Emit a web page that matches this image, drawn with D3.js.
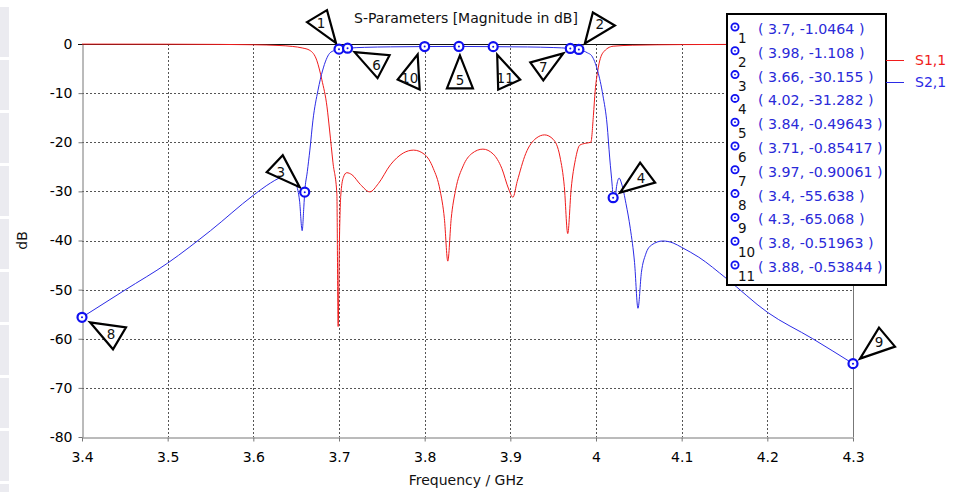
<!DOCTYPE html>
<html>
<head>
<meta charset="utf-8">
<script src="https://cdn.jsdelivr.net/npm/d3@7"></script>
<style>
  html, body { margin: 0; padding: 0; background: #fff; }
  svg { display: block; }
  text { font-family: "DejaVu Sans", Verdana, sans-serif; }
</style>
</head>
<body>
<svg id="chart" width="961" height="492"></svg>
<script>
// ---- data ----------------------------------------------------------------
const freqTicks = [3.4, 3.5, 3.6, 3.7, 3.8, 3.9, 4.0, 4.1, 4.2, 4.3];
const dbTicks = [0, -10, -20, -30, -40, -50, -60, -70, -80];

const seriesNames = ["S1,1", "S2,1"];

// S1,1 (reflection), frequency in GHz and magnitude in dB
const s11Freq = [3.40, 3.50, 3.56, 3.60, 3.63, 3.646, 3.657, 3.666, 3.674, 3.68,
  3.686, 3.689, 3.693, 3.6975, 3.699, 3.7005, 3.702, 3.705, 3.709, 3.715,
  3.725, 3.736, 3.746, 3.76, 3.775, 3.787, 3.80, 3.81, 3.818, 3.823,
  3.827, 3.831, 3.836, 3.845, 3.855, 3.868, 3.88, 3.89, 3.898, 3.903,
  3.908, 3.918, 3.93, 3.94, 3.95, 3.958, 3.963, 3.967, 3.971, 3.976,
  3.981, 3.988, 3.994, 3.997, 3.999, 4.002, 4.008, 4.02, 4.043, 4.10,
  4.20, 4.30];
const s11Db = [-0.02, -0.04, -0.08, -0.15, -0.3, -0.5, -0.8, -1.3, -3.3, -7.3,
  -12.8, -17.5, -24.2, -30.5, -57.5, -40, -31, -27.2, -26.2, -26.6,
  -28.6, -30.1, -28.4, -24.6, -22.2, -21.6, -22.5, -25.3, -29.8, -35.5,
  -44.2, -35.5, -29.8, -24.8, -22.3, -21.4, -22.4, -25.3, -29.5, -31.2,
  -28.0, -22.3, -19.2, -18.5, -19.4, -23.0, -29.0, -38.6, -29.5, -23.5,
  -20.6, -20.2, -20.0, -14.5, -9.6, -5.5, -1.8, -0.45, -0.25, -0.12,
  -0.06, -0.04];

// S2,1 (transmission)
const s21Freq = [3.40, 3.45, 3.50, 3.55, 3.60, 3.62, 3.63, 3.64, 3.645, 3.65,
  3.654, 3.657, 3.659, 3.66, 3.663, 3.666, 3.6696, 3.6755, 3.681, 3.685,
  3.689, 3.695, 3.70, 3.71, 3.73, 3.76, 3.80, 3.84, 3.88, 3.92,
  3.95, 3.97, 3.98, 3.99, 3.995, 4.002, 4.008, 4.013, 4.016, 4.019,
  4.02, 4.022, 4.024, 4.027, 4.03, 4.035, 4.04, 4.045, 4.049, 4.053,
  4.058, 4.065, 4.078, 4.09, 4.10, 4.12, 4.152, 4.20, 4.253, 4.30];
const s21Db = [-55.638, -50.1, -44.6, -38.0, -30.8, -28.3, -27.3, -26.7, -27.0, -28.5,
  -32.0, -38.0, -33.0, -30.155, -26.0, -21.6, -15.5, -9.4, -5.3, -3.2,
  -1.9, -1.3, -1.0464, -0.85417, -0.68, -0.58, -0.51963, -0.49643, -0.53844, -0.6,
  -0.72, -0.90061, -1.108, -1.8, -2.4, -5.5, -10.4, -16.5, -23.2, -29.0,
  -31.282, -31.8, -29.0, -27.3, -28.5, -32.5, -37.5, -44.5, -53.8, -46.5,
  -42.8, -40.9, -40.1, -40.5, -41.4, -43.4, -47.7, -54.6, -60.0, -65.068];

// markers placed on S2,1
const markerIds = [1, 2, 3, 4, 5, 6, 7, 8, 9, 10, 11];
const markerFreq = [3.7, 3.98, 3.66, 4.02, 3.84, 3.71, 3.97, 3.4, 4.3, 3.8, 3.88];
const markerDb = [-1.0464, -1.108, -30.155, -31.282, -0.49643, -0.85417, -0.90061, -55.638, -65.068, -0.51963, -0.53844];

// ---- layout --------------------------------------------------------------
const plot = { left: 82, right: 853, top: 44, bottom: 437 };
const RED = "#f01c1c", BLUE = "#2b2be6", MARK = "#1010f0", TEXTBLUE = "#2a2ad8";
const FONT = 14;

// callout triangles, as pixel offsets from the marker (vertices, then number position)
const callouts = {
  1: { v: [[-32, -27], [-12, -39], [-3, -6]], t: [-18, -26] },
  2: { v: [[14, -37], [36, -24], [6, -6]], t: [21, -25] },
  3: { v: [[-22, -37], [-38, -20], [-5, -5]], t: [-24, -20] },
  4: { v: [[27, -35], [42, -15], [7, -5]], t: [28, -20] },
  5: { v: [[1, 9], [-12, 42], [14, 42]], t: [1, 34] },
  6: { v: [[7, 4], [42, 7], [30, 30]], t: [29, 17] },
  7: { v: [[-7, 5], [-40, 14], [-27, 32]], t: [-27, 19] },
  8: { v: [[8, 5], [44, 10], [31, 32]], t: [29, 17] },
  9: { v: [[26, -36], [42, -17], [7, -5]], t: [26, -22] },
  10: { v: [[-7, 8], [-27, 33], [-5, 43]], t: [-15, 31] },
  11: { v: [[4, 8], [27, 33], [5, 43]], t: [12, 31] }
};

const svg = d3.select("#chart");

// side strip of panel tabs along the left window edge
const strip = svg.append("g");
for (let i = 0; i < 10; i++) {
  strip.append("rect").attr("x", 0).attr("y", 7 + i * 53).attr("width", 9).attr("height", 50)
    .attr("fill", "#ebebf0");
}

const x = d3.scaleLinear().domain([3.4, 4.3]).range([plot.left, plot.right]);
const y = d3.scaleLinear().domain([-80, 0]).range([plot.bottom, plot.top]);

// grid
const grid = svg.append("g").attr("stroke", "#555").attr("stroke-width", 1)
  .attr("stroke-dasharray", "2,2");
grid.selectAll(".gv").data(freqTicks.slice(1, -1)).join("line")
  .attr("x1", d => Math.round(x(d)) + 0.5).attr("x2", d => Math.round(x(d)) + 0.5)
  .attr("y1", plot.top).attr("y2", plot.bottom);
grid.selectAll(".gh").data(dbTicks.slice(1, -1)).join("line")
  .attr("y1", d => Math.round(y(d)) + 0.5).attr("y2", d => Math.round(y(d)) + 0.5)
  .attr("x1", plot.left).attr("x2", plot.right);

// axes
const fmt = d => String(+d.toFixed(1));
const xAxis = svg.append("g").attr("transform", `translate(0,${plot.bottom + 0.5})`)
  .call(d3.axisBottom(x).tickValues(freqTicks).tickFormat(fmt).tickSize(4).tickSizeOuter(0).tickPadding(11));
const yAxis = svg.append("g").attr("transform", `translate(${plot.left + 0.5},0)`)
  .call(d3.axisLeft(y).tickValues(dbTicks).tickFormat(fmt).tickSize(4).tickSizeOuter(0).tickPadding(6));
[xAxis, yAxis].forEach(a => {
  a.select(".domain").attr("stroke", "#777");
  a.selectAll(".tick line").attr("stroke", "#777");
  a.selectAll("text").attr("fill", "#000").style("font-size", FONT + "px")
    .style("font-family", "'DejaVu Sans', Verdana, sans-serif");
});

// right and top frame
svg.append("line").attr("x1", Math.round(x(4.3)) + 0.5).attr("x2", Math.round(x(4.3)) + 0.5)
  .attr("y1", plot.top).attr("y2", plot.bottom).attr("stroke", "#777");
svg.append("line").attr("x1", plot.left - 4).attr("x2", plot.right)
  .attr("y1", y(0) + 0.5).attr("y2", y(0) + 0.5).attr("stroke", "#111");

// curves
const line = d3.line().x(d => x(d[0])).y(d => y(d[1])).curve(d3.curveMonotoneX);
const s11 = s11Freq.map((f, i) => [f, s11Db[i]]);
const s21 = s21Freq.map((f, i) => [f, s21Db[i]]);
svg.append("path").datum(s11).attr("d", line).attr("fill", "none")
  .attr("stroke", RED).attr("stroke-width", 1);
svg.append("path").datum(s21).attr("d", line).attr("fill", "none")
  .attr("stroke", BLUE).attr("stroke-width", 1);

// titles
svg.append("text").attr("x", 466).attr("y", 18).attr("text-anchor", "middle")
  .attr("dominant-baseline", "central").style("font-size", FONT + "px").attr("fill", "#111")
  .text("S-Parameters [Magnitude in dB]");
svg.append("text").attr("x", 466).attr("y", 480).attr("text-anchor", "middle")
  .attr("dominant-baseline", "central").style("font-size", FONT + "px").attr("fill", "#111")
  .text("Frequency / GHz");
svg.append("text").attr("transform", `translate(22,${(plot.top + plot.bottom) / 2}) rotate(-90)`)
  .attr("text-anchor", "middle").attr("dominant-baseline", "central")
  .style("font-size", FONT + "px").attr("fill", "#111").text("dB");

// markers
const markers = markerIds.map((id, i) => ({ id, f: markerFreq[i], v: markerDb[i] }));
const mg = svg.append("g");
markers.forEach(m => {
  const px = x(m.f), py = y(m.v), c = callouts[m.id];
  mg.append("polygon")
    .attr("points", c.v.map(p => [px + p[0], py + p[1]].join(",")).join(" "))
    .attr("fill", "#fff").attr("stroke", "#000").attr("stroke-width", 2.2)
    .attr("stroke-linejoin", "miter");
  mg.append("text").attr("x", px + c.t[0]).attr("y", py + c.t[1])
    .attr("text-anchor", "middle").attr("dominant-baseline", "central")
    .style("font-size", "13.5px").attr("fill", "#111").text(m.id);
});
markers.forEach(m => {
  const px = x(m.f), py = y(m.v);
  mg.append("circle").attr("cx", px).attr("cy", py).attr("r", 4.5)
    .attr("fill", "#fff").attr("stroke", MARK).attr("stroke-width", 2.2);
  mg.append("circle").attr("cx", px).attr("cy", py).attr("r", 1).attr("fill", MARK);
});

// marker readout box
const box = { x: 727, y: 14, w: 159, h: 271, row: 23.8 };
const lg = svg.append("g");
lg.append("rect").attr("x", box.x).attr("y", box.y).attr("width", box.w).attr("height", box.h)
  .attr("fill", "#fff").attr("stroke", "#000").attr("stroke-width", 2);
markers.forEach((m, i) => {
  const ry = 28 + i * box.row;
  lg.append("circle").attr("cx", 735).attr("cy", ry - 1).attr("r", 3.6)
    .attr("fill", "none").attr("stroke", MARK).attr("stroke-width", 1.8);
  lg.append("circle").attr("cx", 735).attr("cy", ry - 1).attr("r", 0.9).attr("fill", MARK);
  lg.append("text").attr("x", 738).attr("y", ry + 10).attr("dominant-baseline", "central")
    .style("font-size", "13.5px").attr("fill", "#111").text(m.id);
  lg.append("text").attr("x", 758).attr("y", ry + 1).attr("dominant-baseline", "central")
    .style("font-size", "14.2px").attr("fill", TEXTBLUE)
    .text(`( ${m.f}, ${m.v} )`);
});

// series legend
const sColors = [RED, BLUE];
seriesNames.forEach((name, i) => {
  const ly = 60 + i * 22;
  svg.append("line").attr("x1", 886).attr("x2", 904).attr("y1", ly + 0.5).attr("y2", ly + 0.5)
    .attr("stroke", sColors[i]).attr("stroke-width", 1);
  svg.append("text").attr("x", 915).attr("y", ly).attr("dominant-baseline", "central")
    .style("font-size", FONT + "px").attr("fill", sColors[i]).text(name);
});
</script>
</body>
</html>
